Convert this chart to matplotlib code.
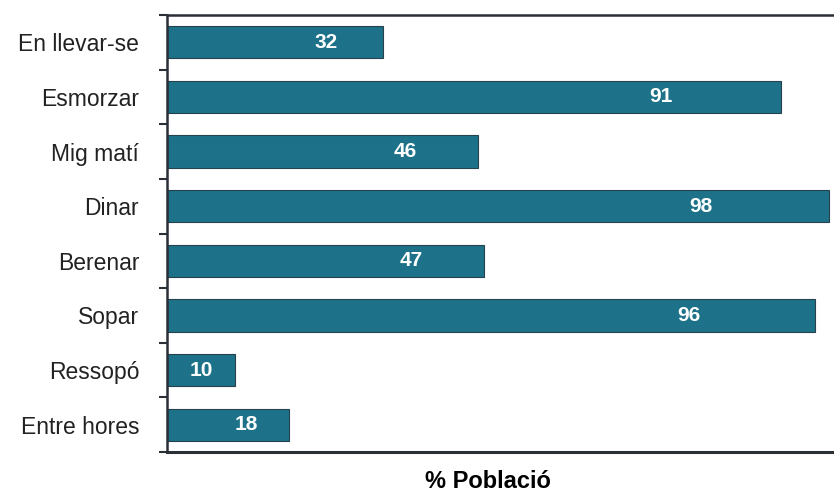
import matplotlib
matplotlib.use("Agg")
import matplotlib.pyplot as plt
import numpy as np

categories = ["En llevar-se", "Esmorzar", "Mig matí", "Dinar", "Berenar", "Sopar", "Ressopó", "Entre hores"]
values = [32, 91, 46, 98, 47, 96, 10, 18]
xlabel = "% Població"

plt.rcParams['font.family'] = ['Liberation Sans', 'DejaVu Sans']

fig = plt.figure(figsize=(8.34, 4.92), dpi=100)
W, H = 834, 492
ax = fig.add_axes([167 / W, 1 - 452 / H, 675 / W, (452 - 15) / H])

n = len(categories)
y = np.arange(n)
ax.barh(y, values, height=0.59, color="#1d7289", edgecolor="#27424c", linewidth=0.8, zorder=2)
ax.set_xlim(0, 100)
ax.set_ylim(n - 0.5, -0.5)

for yi, v in zip(y, values):
    ax.text(0.84 * v - 3.3, yi, str(v), ha="center", va="center", color="white",
            fontsize=15, fontweight="bold", zorder=3)

ax.set_yticks(y)
ax.set_yticklabels(categories, fontsize=16.5, color="#222222")
ax.tick_params(axis="y", which="major", length=0, pad=20)
ax.set_yticks(np.arange(n + 1) - 0.5, minor=True)
ax.tick_params(axis="y", which="minor", length=6, width=1.5, color="#2b2f36")
ax.set_xticks([])

for s in ["left", "top", "bottom"]:
    ax.spines[s].set_color("#2b2f36")
ax.spines["left"].set_linewidth(1.8)
ax.spines["top"].set_linewidth(1.8)
ax.spines["bottom"].set_linewidth(2.2)
ax.spines["right"].set_visible(False)

fig.text(488 / W, 1 - 481 / H, xlabel, ha="center", va="center", fontsize=17, fontweight="bold")

fig.savefig("out.png", dpi=100)
